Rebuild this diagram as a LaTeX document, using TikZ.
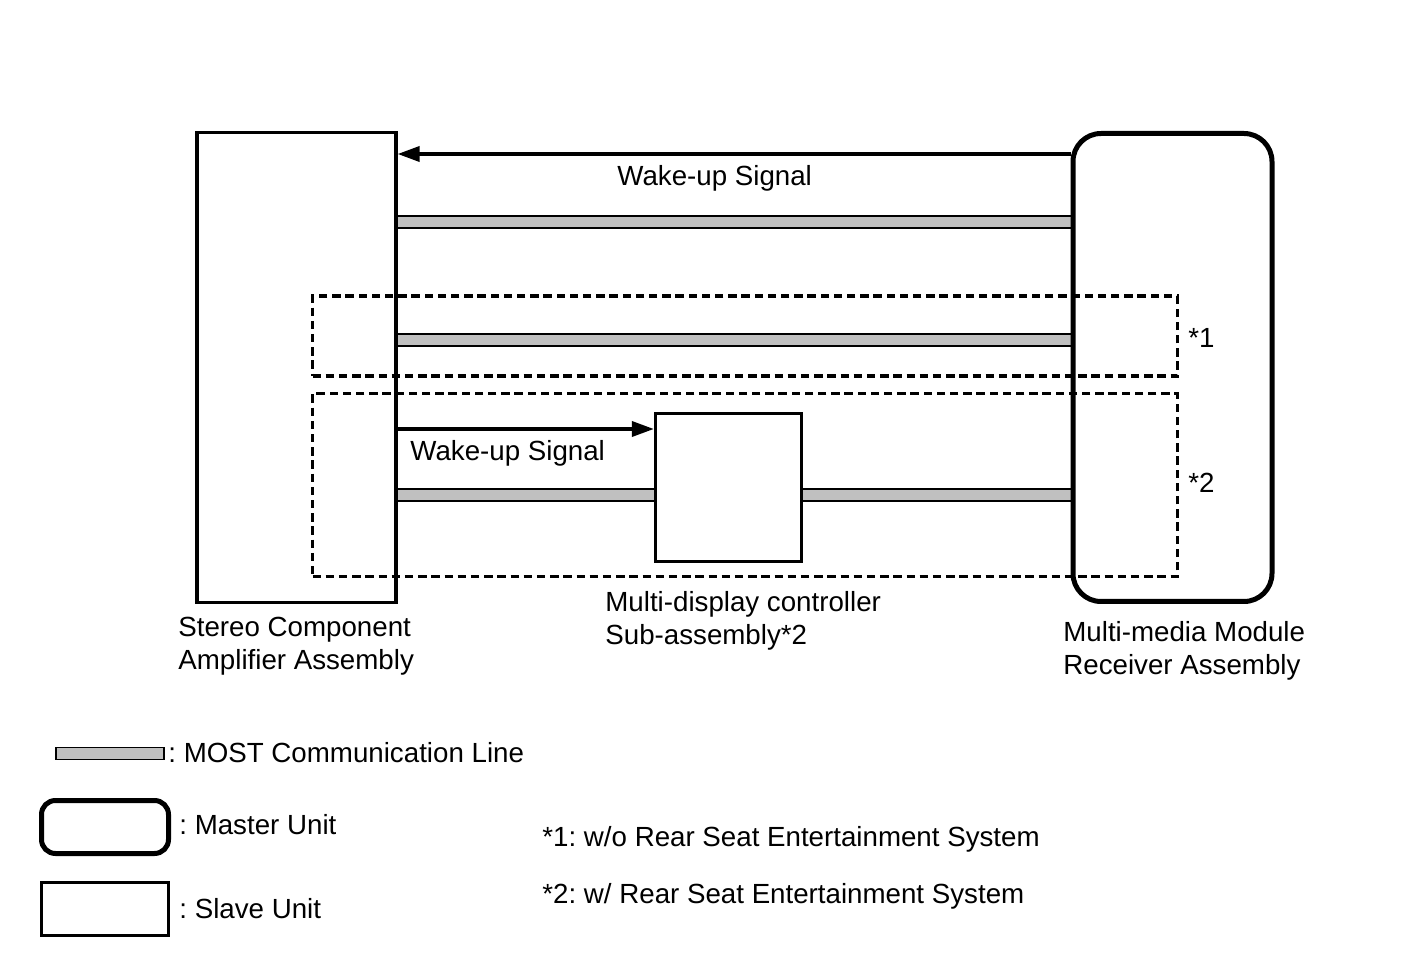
\documentclass[tikz,border=0pt]{standalone}
\usepackage{fontspec}
\setmainfont{Liberation Sans}
\usetikzlibrary{arrows.meta,backgrounds}
\definecolor{mostgray}{HTML}{C0C0C0}
\frenchspacing
\tikzset{
  slavebox/.style={draw=black, line width=1.6pt, rectangle, inner sep=0pt},
  masterbox/.style={draw=black, line width=2.5pt, rectangle, rounded corners=14pt, inner sep=0pt},
  optbox/.style={draw=black, line width=1.8pt, rectangle, inner sep=0pt, dash pattern=on 4.2pt off 2.4pt},
  most/.style={draw=black, line width=1pt, double=mostgray, double distance=4.8pt},
  wake/.style={draw=black, line width=1.8pt, -{Triangle[length=11pt,width=7.5pt]}},
  txt/.style={inner sep=0pt, font=\fontsize{13.85pt}{16.5pt}\selectfont},
  lbl/.style={txt, anchor=base west},
  lbl2/.style={txt, anchor=north west, align=left}
}
\begin{document}
\begin{tikzpicture}[x=0.5pt,y=-0.5pt]
\useasboundingbox (0,0) rectangle (1421,957);
% units
\node[slavebox, minimum width=99.5pt, minimum height=235pt] (stereo) at (296.5,367.5) {};
\node[masterbox, minimum width=99.5pt, minimum height=234pt] (master) at (1172.5,367.5) {};
\node[slavebox, minimum width=73pt, minimum height=74pt] (mdc) at (728.5,487.5) {};
% optional regions
\node[optbox, minimum width=432.5pt, minimum height=40pt] (opt1) at (745,336) {};
\node[optbox, minimum width=432.5pt, minimum height=91.5pt] (opt2) at (745,485) {};
% MOST lines
\begin{scope}[on background layer]
\draw[most] (stereo.east |- 0,222) -- (master.west |- 0,222);
\draw[most] (stereo.east |- 0,340) -- (master.west |- 0,340);
\draw[most] (stereo.east |- 0,495) -- (mdc.west |- 0,495);
\draw[most] (mdc.east |- 0,495) -- (master.west |- 0,495);
\end{scope}
% wake-up signals
\draw[wake] (master.west |- 0,154) -- (stereo.east |- 0,154);
\draw[wake] (stereo.east |- 0,429) -- (mdc.west |- 0,429);
\node[lbl] (w1) at (617,186) {Wake-up Signal};
\node[lbl] (w2) at (410,461) {Wake-up Signal};
\node[lbl] (s1) at (1188,348) {*1};
\node[lbl] (s2) at (1188,493) {*2};
% unit labels
\node[lbl2] (stereolbl) at (178,616.5) {Stereo Component\\Amplifier Assembly};
\node[lbl2] (mdclbl) at (605,591.5) {Multi-display controller\\Sub-assembly*2};
\node[lbl2] (masterlbl) at (1063,621.5) {Multi-media Module\\Receiver Assembly};
% legend
\node[draw=black, line width=0.9pt, fill=mostgray, minimum width=54pt, minimum height=6pt, inner sep=0pt] (legmost) at (110,753.5) {};
\node[lbl] (legmosttxt) at (168,762) {: MOST Communication Line};
\node[masterbox, rounded corners=7pt, minimum width=63.5pt, minimum height=26.5pt] (legmaster) at (105,827) {};
\node[lbl] (legmastertxt) at (179,834) {: Master Unit};
\node[slavebox, minimum width=63.5pt, minimum height=26.5pt] (legslave) at (105,909) {};
\node[lbl] (legslavetxt) at (179,918) {: Slave Unit};
\node[lbl] (note1) at (542,846) {*1: w/o Rear Seat Entertainment System};
\node[lbl] (note2) at (542,903) {*2: w/ Rear Seat Entertainment System};
\end{tikzpicture}
\end{document}
